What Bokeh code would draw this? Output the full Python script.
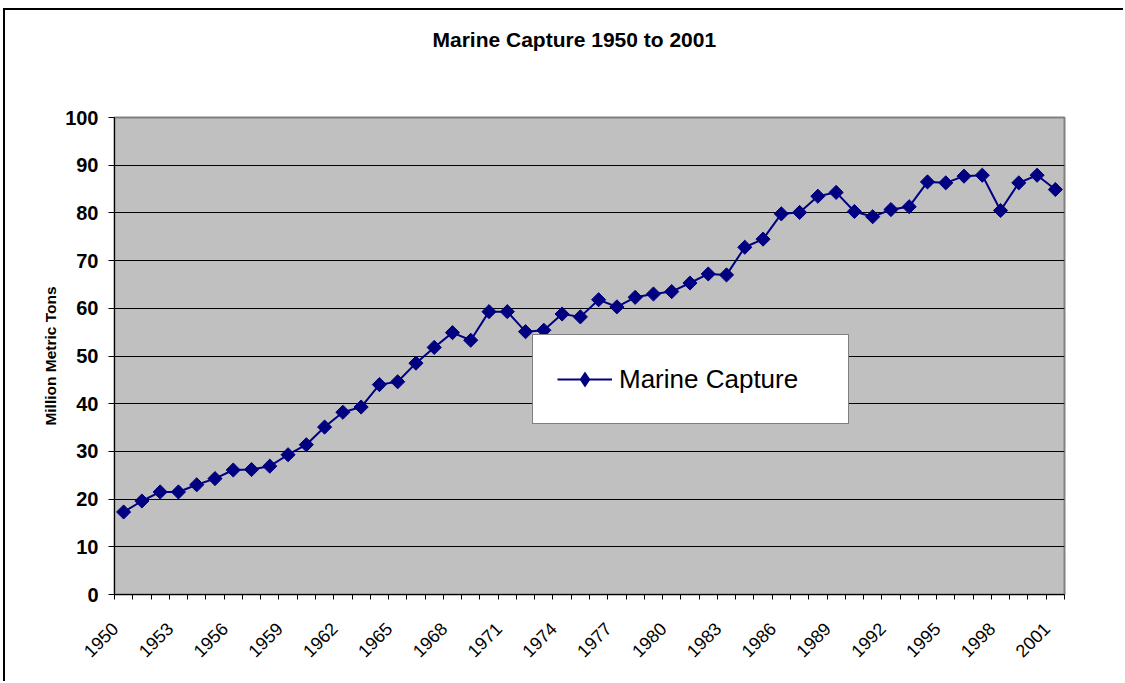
import math
from bokeh.plotting import figure
from bokeh.models import Range1d, FixedTicker, Legend, LegendItem, Title
from bokeh.embed import file_html
from bokeh.resources import INLINE

years = list(range(1950, 2002))
capture = [17.3, 19.6, 21.5, 21.5, 23.0, 24.3, 26.1, 26.2, 26.9, 29.3,
           31.4, 35.1, 38.2, 39.3, 44.0, 44.6, 48.5, 51.8, 54.9, 53.3,
           59.3, 59.3, 55.1, 55.4, 58.8, 58.2, 61.8, 60.3, 62.3, 63.0,
           63.5, 65.3, 67.2, 67.0, 72.8, 74.5, 79.8, 80.1, 83.5, 84.3,
           80.3, 79.2, 80.7, 81.3, 86.5, 86.3, 87.7, 87.9, 80.5, 86.3,
           87.9, 84.9]
label_years = list(range(1950, 2002, 3))
y_ticks = list(range(0, 101, 10))
title_text = "Marine Capture 1950 to 2001"
y_label = "Million Metric Tons"
series_name = "Marine Capture"

FONT = "Liberation Sans"
NAVY = "#000080"
LABEL_SHIFT = 0.46875  # rotated labels end slightly left of the category centre

p = figure(width=1120, height=673, output_backend="svg", toolbar_location=None,
           x_range=Range1d(years[0] - 0.5, years[-1] + 0.5),
           y_range=Range1d(0, 100),
           min_border_left=109, min_border_right=61,
           min_border_top=107, min_border_bottom=89,
           background_fill_color="#C0C0C0", border_fill_color="white")
p.styles = {"margin-left": "3px", "margin-top": "8px",
            "border-top": "2px solid black", "border-left": "2px solid black"}

p.title.text = title_text
p.title.text_font = FONT
p.title.text_font_size = "21px"
p.title.text_font_style = "bold"
p.title.text_color = "black"
p.title.align = "left"
p.title.offset = 318
p.title.standoff = 0

# empty spacer between the title and the plot area
p.add_layout(Title(text=" ", text_font_size="1px", standoff=64), "above")

p.outline_line_color = "#808080"
p.outline_line_width = 2

# grid
p.xgrid.grid_line_color = None
p.ygrid.ticker = FixedTicker(ticks=y_ticks)
p.ygrid.grid_line_color = "black"
p.ygrid.grid_line_width = 1

# x axis
label_ticks = [y - LABEL_SHIFT for y in label_years]
xa = p.xaxis[0]
xa.ticker = FixedTicker(ticks=label_ticks,
                        minor_ticks=[y - 0.5 for y in years] + [years[-1] + 0.5])
xa.major_label_overrides = {t: str(y) for t, y in zip(label_ticks, label_years)}
xa.major_tick_out = 0
xa.major_tick_in = 0
xa.minor_tick_out = 5
xa.minor_tick_in = 0
xa.minor_tick_line_color = "black"
xa.axis_line_color = "black"
xa.axis_line_width = 1
xa.major_label_orientation = math.pi / 4
xa.major_label_text_font = FONT
xa.major_label_text_font_size = "18px"
xa.major_label_standoff = 26
xa.major_label_text_color = "black"

# y axis
ya = p.yaxis[0]
ya.ticker = FixedTicker(ticks=y_ticks)
ya.minor_tick_line_color = None
ya.major_tick_out = 6
ya.major_tick_in = 0
ya.major_tick_line_color = "black"
ya.axis_line_color = "black"
ya.major_label_text_font = FONT
ya.major_label_text_font_size = "20px"
ya.major_label_text_font_style = "bold"
ya.major_label_text_color = "black"
ya.major_label_standoff = 10
ya.axis_label = y_label
ya.axis_label_text_font = FONT
ya.axis_label_text_font_size = "15.5px"
ya.axis_label_text_font_style = "bold"
ya.axis_label_text_color = "black"
ya.axis_label_standoff = 3

ln = p.line(years, capture, line_color=NAVY, line_width=2)
sc = p.scatter(years, capture, marker="square", angle=math.pi / 4, size=10,
               fill_color=NAVY, line_color=NAVY)
# legend-only marker (legend glyphs ignore rotation); invisible in the plot
leg_marker = p.scatter(years, capture, marker="diamond", size=0,
                       fill_color=NAVY, line_color=None)

legend = Legend(items=[LegendItem(label=series_name, renderers=[ln, leg_marker])],
                location=(418, 170))
legend.label_text_font = FONT
legend.label_text_font_size = "26px"
legend.label_text_color = "black"
legend.glyph_width = 55
legend.glyph_height = 40
legend.label_standoff = 7
legend.padding = 24
legend.label_width = 205
legend.border_line_color = "black"
legend.border_line_width = 1
legend.background_fill_color = "white"
legend.background_fill_alpha = 1.0
legend.spacing = 0
p.add_layout(legend, "center")

open("out.html", "w").write(file_html(p, INLINE))
